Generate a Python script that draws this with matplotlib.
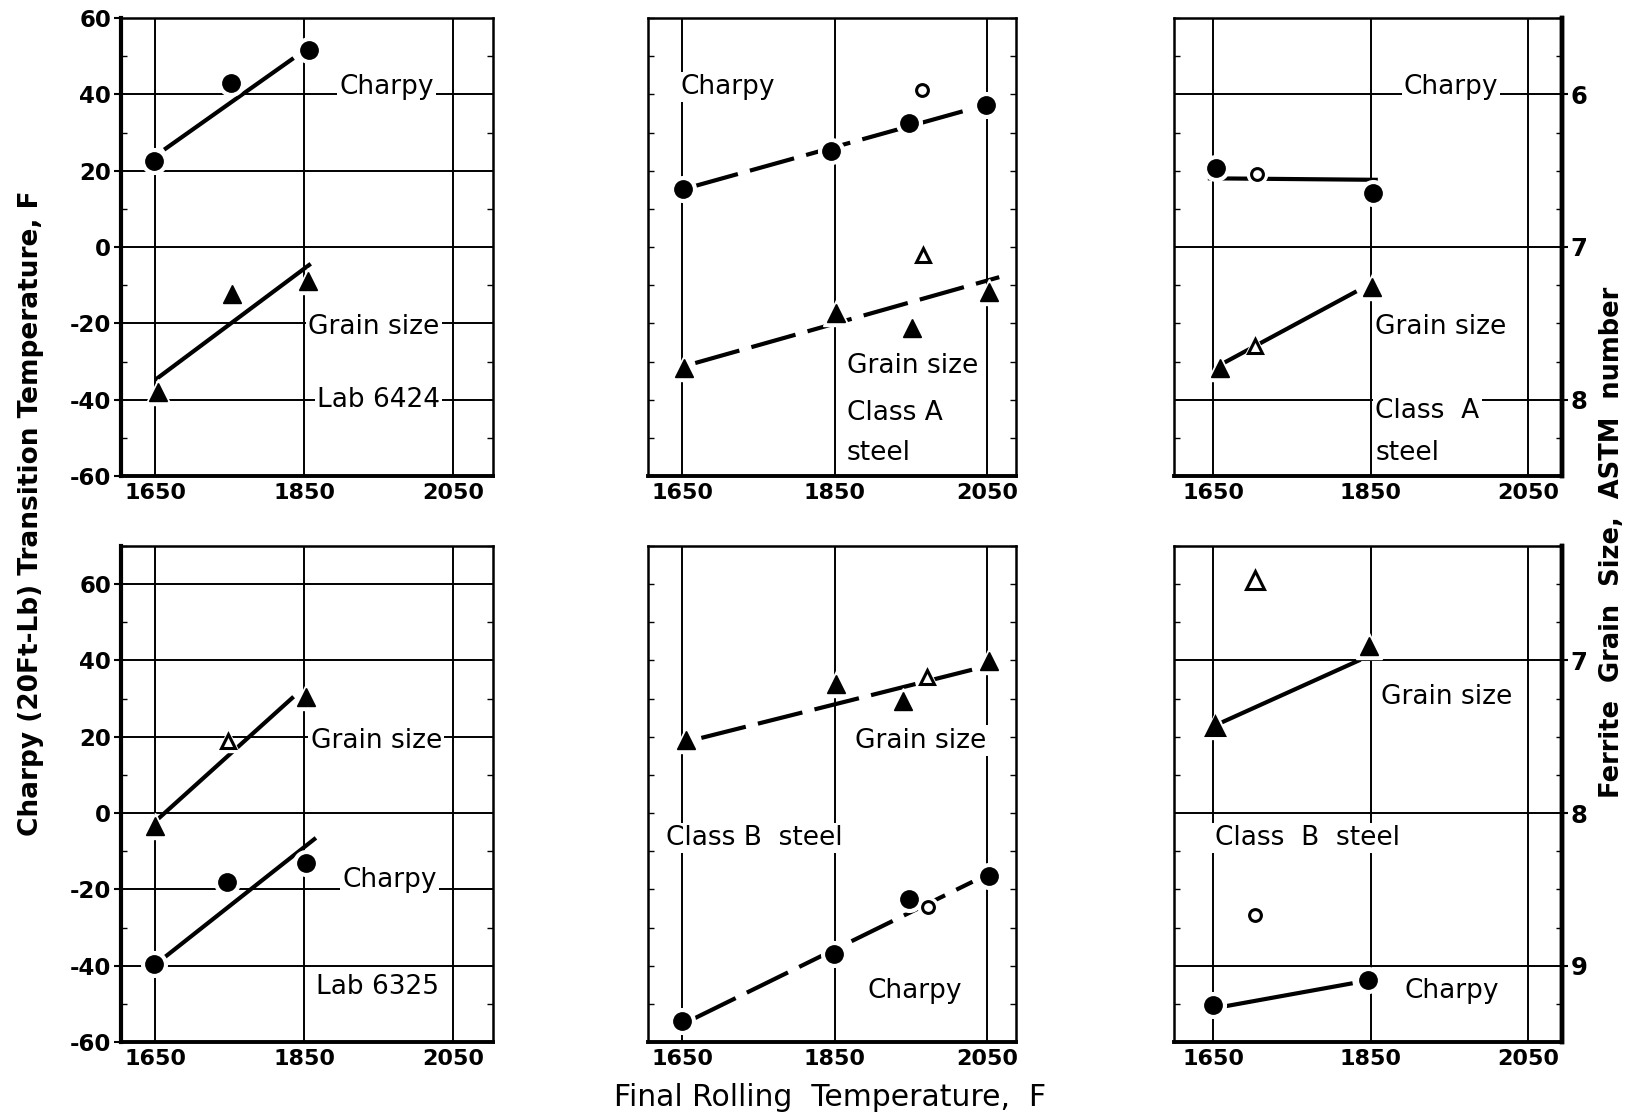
import matplotlib.pyplot as plt
from matplotlib.ticker import MultipleLocator

plt.rcParams['font.family'] = ['DejaVu Sans']

# ---- data (x = final rolling temperature F, y = transition temp F)
# top left, Lab 6424
tl_charpy_x = [1648, 1752, 1857]
tl_charpy_y = [22.6, 42.9, 51.5]
tl_charpy_fit_x = [1662, 1836]
tl_charpy_fit_y = [25.5, 49.5]
tl_grain_x = [1654, 1753, 1855]
tl_grain_y = [-38.0, -12.3, -8.8]
tl_grain_fit_x = [1650, 1859]
tl_grain_fit_y = [-34.8, -4.4]

# top middle, Class A steel
tm_charpy_x = [1651, 1845, 1948, 2048]
tm_charpy_y = [15.3, 25.2, 32.5, 37.3]
tm_charpy_open_x = [1965]
tm_charpy_open_y = [41.2]
tm_charpy_fit_x = [1665, 2037]
tm_charpy_fit_y = [15.9, 36.6]
tm_grain_x = [1652, 1852, 1952, 2052]
tm_grain_y = [-31.8, -17.2, -21.2, -11.9]
tm_grain_open_x = [1966]
tm_grain_open_y = [-2.2]
tm_grain_fit_x = [1667, 2066]
tm_grain_fit_y = [-30.4, -7.9]

# top right, Class A steel
tr_charpy_x = [1654, 1853]
tr_charpy_y = [20.7, 14.1]
tr_charpy_open_x = [1706]
tr_charpy_open_y = [19.1]
tr_charpy_fit_x = [1643, 1859]
tr_charpy_fit_y = [18.0, 17.6]
tr_grain_x = [1659, 1852]
tr_grain_y = [-31.7, -10.6]
tr_grain_open_x = [1703]
tr_grain_open_y = [-26.0]
tr_grain_fit_x = [1663, 1832]
tr_grain_fit_y = [-30.4, -11.6]

# bottom left, Lab 6325
bl_grain_x = [1650, 1853]
bl_grain_y = [-3.5, 30.5]
bl_grain_open_x = [1748]
bl_grain_open_y = [19.0]
bl_grain_fit_x = [1654, 1836]
bl_grain_fit_y = [-1.5, 30.5]
bl_charpy_x = [1649, 1747, 1853]
bl_charpy_y = [-39.5, -18.0, -13.0]
bl_charpy_fit_x = [1658, 1866]
bl_charpy_fit_y = [-38.5, -6.5]

# bottom middle, Class B steel
bm_grain_x = [1655, 1852, 1940, 2053]
bm_grain_y = [19.2, 33.7, 29.4, 39.8]
bm_grain_open_x = [1971]
bm_grain_open_y = [35.7]
bm_grain_fit_x = [1675, 2031]
bm_grain_fit_y = [19.7, 37.6]
bm_charpy_x = [1649, 1849, 1948, 2052]
bm_charpy_y = [-54.5, -37.0, -22.4, -16.6]
bm_charpy_open_x = [1972]
bm_charpy_open_y = [-24.6]
bm_charpy_fit_x = [1666, 2031]
bm_charpy_fit_y = [-53.8, -18.0]

# bottom right, Class B steel
br_grain_x = [1652, 1848]
br_grain_y = [22.8, 43.7]
br_grain_open_x = [1652, 1703]
br_grain_open_y = [22.8, 61.0]
br_grain_fit_x = [1661, 1837]
br_grain_fit_y = [23.8, 40.2]
br_charpy_x = [1650, 1846]
br_charpy_y = [-50.2, -43.7]
br_charpy_open_x = [1703]
br_charpy_open_y = [-26.6]
br_charpy_fit_x = [1666, 1827]
br_charpy_fit_y = [-50.6, -44.6]

x_ticks = [1650, 1850, 2050]
temp_ticks_top = [60, 40, 20, 0, -20, -40, -60]
temp_ticks_bottom = [60, 40, 20, 0, -20, -40, -60]
astm_ticks_top = [6, 7, 8]
astm_ticks_bottom = [7, 8, 9]

W, H = 1646, 1115
fig = plt.figure(figsize=(W / 100, H / 100), dpi=100)


def px_axes(left, right, top, bottom):
    return fig.add_axes([left / W, 1 - bottom / H, (right - left) / W, (bottom - top) / H])


cols = {'l': (121, 493, (1604, 2104)), 'm': (648, 1016, (1605, 2088)), 'r': (1174, 1562, (1600, 2093))}
rows = {'t': (18, 476, (-60, 60)), 'b': (546, 1042, (-60, 70))}

TXT = 19
TICK = 16
LW = 3.0


def base(col, row):
    left, right, xl = cols[col]
    top, bottom, yl = rows[row]
    ax = px_axes(left, right, top, bottom)
    ax.set_xlim(*xl)
    ax.set_ylim(*yl)
    ax.set_xticks(x_ticks)
    ax.set_xticklabels([str(v) for v in x_ticks], fontsize=TICK, fontweight='bold')
    ax.xaxis.grid(True, color='black', lw=1.4)
    for s in ax.spines.values():
        s.set_linewidth(1.8)
    ax.spines['bottom'].set_linewidth(2.8)
    ax.tick_params(axis='x', length=0, pad=5)
    ax.tick_params(axis='y', length=0)
    # little graph-paper notches along the frame
    ax.yaxis.set_minor_locator(MultipleLocator(10))
    ax.tick_params(axis='y', which='minor', direction='in', left=True, right=True, length=4, width=1)
    ax.set_axisbelow(True)
    return ax


def pts(ax, x, y, marker, ms, filled=True):
    ax.plot(x, y, ls='none', marker=marker, ms=ms + 6, color='white', zorder=4)
    if filled:
        ax.plot(x, y, ls='none', marker=marker, ms=ms, color='black', zorder=5)
    else:
        ax.plot(x, y, ls='none', marker=marker, ms=ms, mfc='white', mec='black', mew=2.2, zorder=5)


def fit(ax, x, y, dashed=False):
    if dashed:
        ax.plot(x, y, color='black', lw=LW, dashes=(11, 3), solid_capstyle='butt', zorder=3)
    else:
        ax.plot(x, y, color='black', lw=LW, solid_capstyle='butt', zorder=3)


def label(ax, x, y, s, ha='center'):
    ax.text(x, y, s, fontsize=TXT, ha=ha, va='center', zorder=6,
            bbox=dict(facecolor='white', edgecolor='none', pad=1.5))


def temp_axis(ax, ticks):
    ax.set_yticks(ticks)
    ax.set_yticklabels([str(v) for v in ticks], fontsize=TICK + 0.5, fontweight='bold')
    ax.tick_params(axis='y', which='major', length=5, width=1.5, pad=2)
    ax.yaxis.grid(True, color='black', lw=1.4)
    ax.spines['left'].set_linewidth(3.0)


def astm_axis(ax, offset, ticks):
    f_pos = [(offset - a) * 40 for a in ticks]
    ax.set_yticks(f_pos)
    ax.set_yticklabels([])
    ax.yaxis.grid(True, color='black', lw=1.4)
    sec = ax.secondary_yaxis('right', functions=(lambda f: offset - f / 40, lambda a: (offset - a) * 40))
    sec.set_yticks(ticks)
    sec.set_yticklabels([str(v) for v in ticks], fontsize=TICK + 1.5, fontweight='bold')
    sec.tick_params(length=4, width=1.5, pad=2)
    sec.spines['right'].set_linewidth(3.2)
    ax.spines['right'].set_linewidth(3.2)


# ---- top left
ax = base('l', 't')
temp_axis(ax, temp_ticks_top)
fit(ax, tl_charpy_fit_x, tl_charpy_fit_y)
fit(ax, tl_grain_fit_x, tl_grain_fit_y)
pts(ax, tl_charpy_x, tl_charpy_y, 'o', 12.5)
pts(ax, tl_grain_x, tl_grain_y, '^', 13)
label(ax, 1961, 42, 'Charpy')
label(ax, 1944, -21, 'Grain size')
label(ax, 1950, -40, 'Lab 6424')

# ---- top middle
ax = base('m', 't')
ax.set_yticks([])
fit(ax, tm_charpy_fit_x, tm_charpy_fit_y, dashed=True)
fit(ax, tm_grain_fit_x, tm_grain_fit_y, dashed=True)
pts(ax, tm_charpy_x, tm_charpy_y, 'o', 12.5)
pts(ax, tm_charpy_open_x, tm_charpy_open_y, 'o', 8.5, filled=False)
pts(ax, tm_grain_x, tm_grain_y, '^', 13)
pts(ax, tm_grain_open_x, tm_grain_open_y, '^', 10, filled=False)
label(ax, 1648, 42, 'Charpy', ha='left')
label(ax, 1866, -31.3, 'Grain size', ha='left')
label(ax, 1866, -43.5, 'Class A', ha='left')
label(ax, 1866, -54, 'steel', ha='left')

# ---- top right
ax = base('r', 't')
astm_axis(ax, 7, astm_ticks_top)
fit(ax, tr_charpy_fit_x, tr_charpy_fit_y)
fit(ax, tr_grain_fit_x, tr_grain_fit_y)
pts(ax, tr_charpy_x, tr_charpy_y, 'o', 12.5)
pts(ax, tr_charpy_open_x, tr_charpy_open_y, 'o', 8.5, filled=False)
pts(ax, tr_grain_x, tr_grain_y, '^', 13)
pts(ax, tr_grain_open_x, tr_grain_open_y, '^', 10, filled=False)
label(ax, 1952, 42, 'Charpy')
label(ax, 1856, -21, 'Grain size', ha='left')
label(ax, 1856, -43, 'Class  A', ha='left')
label(ax, 1856, -54, 'steel', ha='left')

# ---- bottom left
ax = base('l', 'b')
temp_axis(ax, temp_ticks_bottom)
fit(ax, bl_grain_fit_x, bl_grain_fit_y)
fit(ax, bl_charpy_fit_x, bl_charpy_fit_y)
pts(ax, bl_grain_x, bl_grain_y, '^', 13)
pts(ax, bl_grain_open_x, bl_grain_open_y, '^', 10, filled=False)
pts(ax, bl_charpy_x, bl_charpy_y, 'o', 12.5)
label(ax, 1947, 19, 'Grain size')
label(ax, 1965, -17.6, 'Charpy')
label(ax, 1949, -45.6, 'Lab 6325')

# ---- bottom middle
ax = base('m', 'b')
ax.set_yticks([])
fit(ax, bm_grain_fit_x, bm_grain_fit_y, dashed=True)
fit(ax, bm_charpy_fit_x, bm_charpy_fit_y, dashed=True)
pts(ax, bm_grain_x, bm_grain_y, '^', 13)
pts(ax, bm_grain_open_x, bm_grain_open_y, '^', 10, filled=False)
pts(ax, bm_charpy_x, bm_charpy_y, 'o', 12.5)
pts(ax, bm_charpy_open_x, bm_charpy_open_y, 'o', 8.5, filled=False)
label(ax, 1963, 19, 'Grain size')
label(ax, 1744, -6.6, 'Class B  steel')
label(ax, 1955, -46.7, 'Charpy')

# ---- bottom right
ax = base('r', 'b')
astm_axis(ax, 8, astm_ticks_bottom)
fit(ax, br_grain_fit_x, br_grain_fit_y)
fit(ax, br_charpy_fit_x, br_charpy_fit_y)
pts(ax, br_grain_open_x, br_grain_open_y, '^', 13, filled=False)
pts(ax, br_grain_x[1:], br_grain_y[1:], '^', 13)
ax.plot(br_grain_x[:1], br_grain_y[:1], ls='none', marker='^', ms=10, color='black', zorder=6)
pts(ax, br_charpy_x, br_charpy_y, 'o', 12.5)
pts(ax, br_charpy_open_x, br_charpy_open_y, 'o', 8.5, filled=False)
label(ax, 1947, 30.5, 'Grain size')
label(ax, 1769, -6.6, 'Class  B  steel')
label(ax, 1953, -46.7, 'Charpy')

# ---- outer axis titles
fig.text(31 / W, 1 - 513 / H, 'Charpy (20Ft-Lb) Transition Temperature, F', rotation=90,
         ha='center', va='center', fontsize=19, fontweight='bold')
fig.text(1612 / W, 1 - 542 / H, 'Ferrite  Grain  Size,  ASTM  number', rotation=90,
         ha='center', va='center', fontsize=18.5, fontweight='bold')
fig.text(830 / W, 1 - 1097 / H, 'Final Rolling  Temperature,  F',
         ha='center', va='center', fontsize=21.5)

fig.savefig('out.png', dpi=100, facecolor='white')
